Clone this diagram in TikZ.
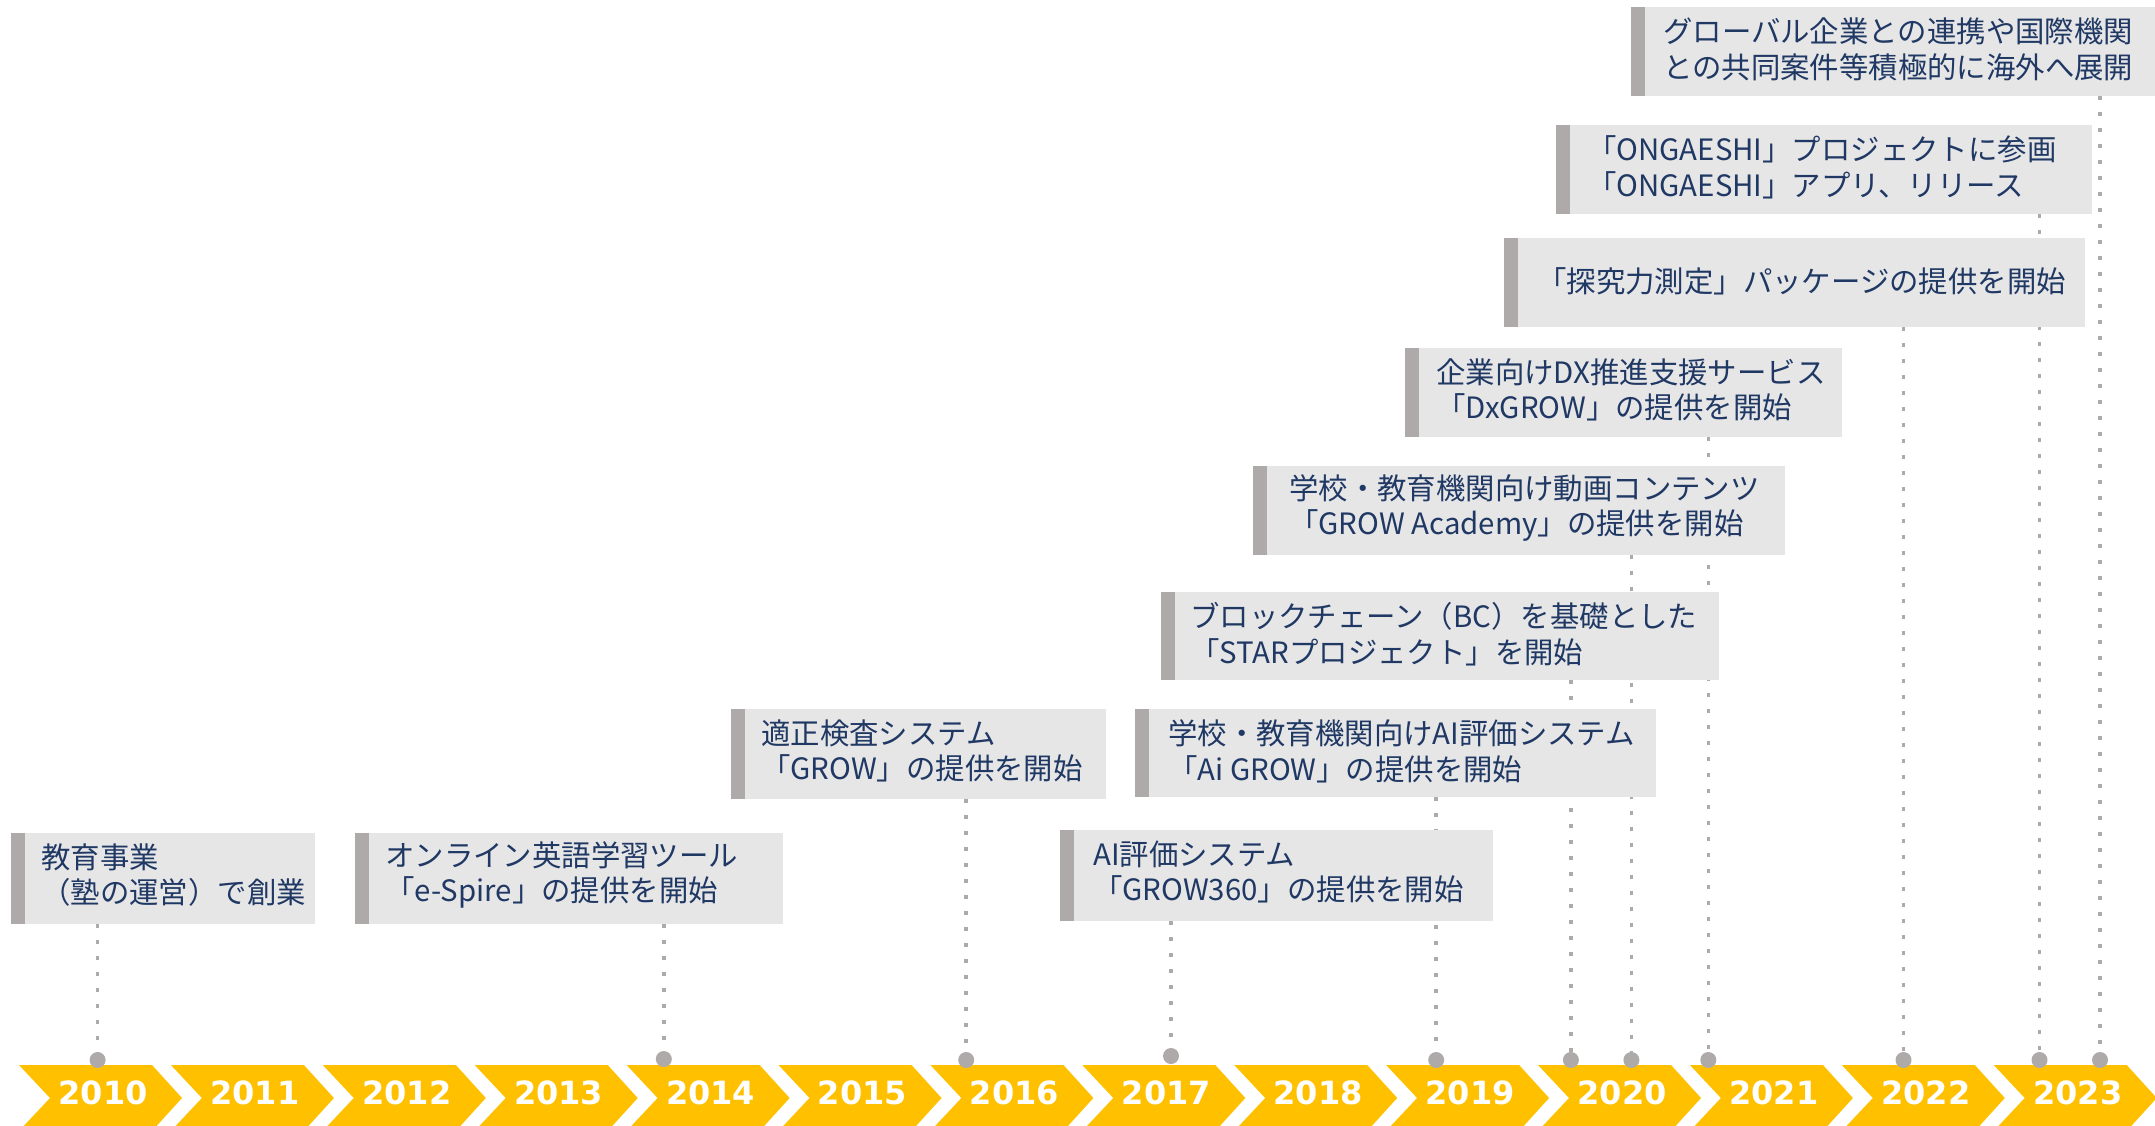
\documentclass[tikz,border=0pt]{standalone}
\usepackage{fontspec}
\setmainfont{Noto Sans CJK JP}
\newfontfamily\yearfont{DejaVu Sans}
\usetikzlibrary{backgrounds}

\definecolor{chevgold}{RGB}{255,192,0}
\definecolor{boxgray}{RGB}{231,230,230}
\definecolor{bargray}{RGB}{174,170,170}
\definecolor{textnavy}{RGB}{31,56,100}

\begin{document}
\begin{tikzpicture}[x=1pt,y=1pt,yscale=-1,
  evbox/.style={fill=boxgray, inner sep=0pt, anchor=north west,
    path picture={\fill[bargray] (path picture bounding box.north west) rectangle ([xshift=14pt]path picture bounding box.south west);}},
  evtext/.style={anchor=west, inner sep=0pt, align=left, text=textnavy, font=\fontsize{29.4}{35.7}\selectfont},
  yeartext/.style={text=white, inner sep=0pt, font=\yearfont\bfseries\fontsize{32}{32}\selectfont},
  yeardot/.style={circle, fill=bargray, minimum size=16, inner sep=0pt},
  dotline/.style={bargray, line width=3.5, dash pattern=on 3.5pt off 12.5pt}]
\useasboundingbox (0,0) rectangle (2155,1126);

%Year chevrons
\foreach \yr [count=\i from 0] in {2010,...,2023} {
  \pgfmathsetmacro{\cx}{19+151.9*\i}
  \fill[chevgold] (\cx,1065) -- ++(133,0) -- ++(30,33) -- ++(-30,33) -- ++(-133,0) -- ++(31,-33) -- cycle;
  \node[yeartext] (yr\yr) at (\cx+84,1093) {\yr};
}

%Dots on the time line
\node[yeardot] (d2010) at (97.6,1060) {};
\node[yeardot] (d2014) at (663.8,1059) {};
\node[yeardot] (d2016) at (966.2,1060) {};
\node[yeardot] (d2017) at (1171,1056) {};
\node[yeardot] (d2019) at (1436.2,1060) {};
\node[yeardot] (d2020a) at (1570.9,1060) {};
\node[yeardot] (d2020b) at (1631.4,1060) {};
\node[yeardot] (d2021) at (1708.3,1060) {};
\node[yeardot] (d2022) at (1903.5,1060) {};
\node[yeardot] (d2023a) at (2039.5,1060) {};
\node[yeardot] (d2023b) at (2100,1060) {};

%Event boxes
\node[evbox, minimum width=304, minimum height=91] (e2010) at (11,833) {};
\node[evbox, minimum width=428, minimum height=91] (e2014) at (355,833) {};
\node[evbox, minimum width=375, minimum height=90] (e2016) at (731,709) {};
\node[evbox, minimum width=433, minimum height=91] (e2017) at (1060,830) {};
\node[evbox, minimum width=521, minimum height=88] (e2019) at (1135,709) {};
\node[evbox, minimum width=558, minimum height=88] (e2020a) at (1161,592) {};
\node[evbox, minimum width=532, minimum height=89] (e2020b) at (1253,466) {};
\node[evbox, minimum width=437, minimum height=89] (e2021) at (1405,348) {};
\node[evbox, minimum width=581, minimum height=89] (e2022) at (1504,238) {};
\node[evbox, minimum width=536, minimum height=89] (e2023a) at (1556,125) {};
\node[evbox, minimum width=524, minimum height=89] (e2023b) at (1631,7) {};

% Text Node
\node[evtext] (t2010) at (41,875) {教育事業\\（塾の運営）で創業};
% Text Node
\node[evtext] (t2014) at (385,875) {オンライン英語学習ツール\\「e-Spire」の提供を開始};
% Text Node
\node[evtext] (t2016) at (761,751) {適正検査システム\\「GROW」の提供を開始};
% Text Node
\node[evtext] (t2017) at (1093,872) {AI評価システム\\「GROW360」の提供を開始};
% Text Node
\node[evtext] (t2019) at (1168,751) {学校・教育機関向けAI評価システム\\「Ai GROW」の提供を開始};
% Text Node
\node[evtext] (t2020a) at (1190,634) {ブロックチェーン（BC）を基礎とした\\「STARプロジェクト」を開始};
% Text Node
\node[evtext] (t2020b) at (1289,508) {学校・教育機関向け動画コンテンツ\\「GROW Academy」の提供を開始};
% Text Node
\node[evtext] (t2021) at (1436,390) {企業向けDX推進支援サービス\\「DxGROW」の提供を開始};
% Text Node
\node[evtext] (t2022) at (1537,281) {「探究力測定」パッケージの提供を開始};
% Text Node
\node[evtext] (t2023a) at (1587,167) {「ONGAESHI」プロジェクトに参画\\「ONGAESHI」アプリ、リリース};
% Text Node
\node[evtext] (t2023b) at (1663,49) {グローバル企業との連携や国際機関\\との共同案件等積極的に海外へ展開};

%Dotted leaders, behind the boxes
\begin{scope}[on background layer]
\foreach \ev in {2010,2014,2016,2017,2019,2020a,2020b,2021,2022,2023a,2023b}
  \draw[dotline] (e\ev.south -| d\ev) -- (d\ev);
\end{scope}

\end{tikzpicture}
\end{document}
